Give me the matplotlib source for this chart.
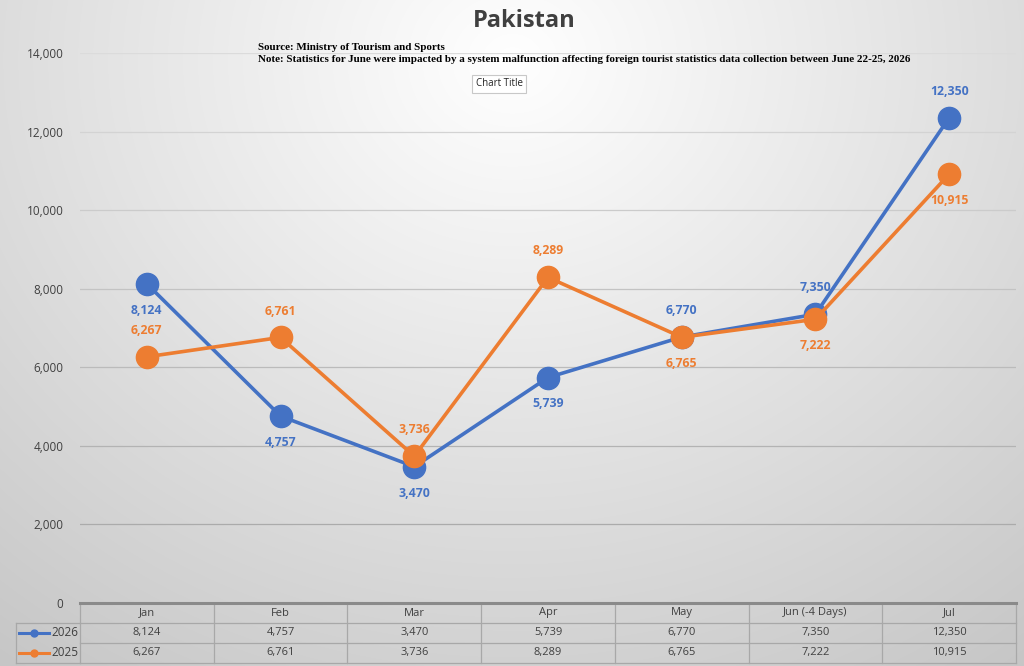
# line chart: Pakistan foreign tourist arrivals, 2026 vs 2025, with data table
import numpy as np
import matplotlib.pyplot as plt
from matplotlib.transforms import blended_transform_factory

months = ['Jan', 'Feb', 'Mar', 'Apr', 'May', 'Jun (-4 Days)', 'Jul']
arrivals_2026 = [8124, 4757, 3470, 5739, 6770, 7350, 12350]
arrivals_2025 = [6267, 6761, 3736, 8289, 6765, 7222, 10915]
# where each data label sits: +1 above the point, -1 below
label_side_2026 = [-1, -1, -1, -1, 1, 1, 1]
label_side_2025 = [1, 1, 1, 1, -1, -1, -1]

blue = '#4472C4'
orange = '#ED7D31'
font = ['Open Sans', 'DejaVu Sans']

fig = plt.figure(figsize=(10.24, 6.66), dpi=100)

# radial gradient background, light at top centre, grey at the edges
bg = fig.add_axes([0, 0, 1, 1], zorder=-10)
yy, xx = np.mgrid[0:666, 0:1024]
dist = np.sqrt(((xx - 512) / 700.0) ** 2 + ((yy - 60) / 620.0) ** 2)
shade = 1.0 - 0.22 * np.clip(dist, 0, 1.2) / 1.2
bg.imshow(np.dstack([shade, shade, shade]), aspect='auto', extent=[0, 1, 0, 1])
bg.axis('off')

ax = fig.add_axes([80 / 1024, 63 / 666, 936 / 1024, 550 / 666])
ax.set_facecolor('none')
x = np.arange(len(months))

ax.plot(x, arrivals_2026, color=blue, lw=2.6, marker='o', ms=16, zorder=3)
ax.plot(x, arrivals_2025, color=orange, lw=2.6, marker='o', ms=16, zorder=4)

for xi, v, s in zip(x, arrivals_2026, label_side_2026):
    ax.annotate(f'{v:,}', (xi, v), xytext=(0, 19 * s), textcoords='offset points',
                ha='center', va='center', color=blue, fontsize=8.8,
                fontweight='bold', family=font)
for xi, v, s in zip(x, arrivals_2025, label_side_2025):
    ax.annotate(f'{v:,}', (xi, v), xytext=(0, 19 * s), textcoords='offset points',
                ha='center', va='center', color=orange, fontsize=8.8,
                fontweight='bold', family=font)

yticks = list(range(0, 14001, 2000))
ax.set_xlim(-0.5, len(months) - 0.5)
ax.set_ylim(0, 14000)
ax.set_yticks(yticks)
ax.set_yticklabels([f'{t:,}' for t in yticks], family=font,
                   fontsize=8.5, color='#404040')
ax.set_xticks([])
ax.tick_params(axis='y', length=0, pad=12)
# gridlines look lighter towards the top, where the background is whiter
for t in yticks[1:]:
    g = 0.64 + 0.22 * t / 14000
    ax.axhline(t, color=(g, g, g), lw=0.9, zorder=1)
for side in ['top', 'right', 'left']:
    ax.spines[side].set_visible(False)
ax.spines['bottom'].set_color('#8a8a8a')
ax.spines['bottom'].set_linewidth(2.2)

# data table under the axis
tr = blended_transform_factory(ax.transData, ax.transAxes)
row_h = 20 / 550
tcol = '#a8a8a8'
rows = [('2026', arrivals_2026, blue), ('2025', arrivals_2025, orange)]
for i, m in enumerate(months):
    ax.text(i, -row_h * 0.5, m, transform=tr, ha='center', va='center',
            fontsize=8, color='#404040', family=font, clip_on=False)
    for r, (name, vals, c) in enumerate(rows):
        ax.text(i, -row_h * (r + 1.5), f'{vals[i]:,}', transform=tr, ha='center',
                va='center', fontsize=8, color='#404040', family=font, clip_on=False)
for i in range(len(months) + 1):
    ax.plot([i - 0.5, i - 0.5], [0, -row_h * 3], transform=tr, color=tcol,
            lw=0.9, clip_on=False)
for r in range(1, 4):
    ax.plot([-0.5, len(months) - 0.5], [-row_h * r, -row_h * r], transform=tr,
            color=tcol, lw=0.9, clip_on=False)

# legend cells on the left of the table
left = -64 / 936
for r, (name, vals, c) in enumerate(rows):
    yc = -row_h * (r + 1.5)
    ax.plot([left + 0.003, left + 0.035], [yc, yc], transform=ax.transAxes,
            color=c, lw=2.2, clip_on=False)
    ax.plot([left + 0.019], [yc], transform=ax.transAxes, marker='o', ms=5,
            color=c, clip_on=False)
    ax.text(-0.002, yc, name, transform=ax.transAxes, ha='right', va='center',
            fontsize=8.5, color='#404040', family=font, clip_on=False)
ax.plot([left, left], [-row_h, -row_h * 3], transform=ax.transAxes, color=tcol,
        lw=0.9, clip_on=False)
ax.plot([left, 0], [-row_h, -row_h], transform=ax.transAxes, color=tcol,
        lw=0.9, clip_on=False)
ax.plot([left, 0], [-row_h * 3, -row_h * 3], transform=ax.transAxes, color=tcol,
        lw=0.9, clip_on=False)

# titles and notes
fig.text(0.512, 1 - 21 / 666, 'Pakistan', ha='center', va='center', fontsize=17,
         fontweight='bold', color='#404040', family=font)
serif = ['Liberation Serif', 'DejaVu Serif']
fig.text(258 / 1024, 1 - 47 / 666, 'Source: Ministry of Tourism and Sports',
         ha='left', va='center', fontsize=7.9, fontweight='bold', family=serif)
fig.text(258 / 1024, 1 - 59 / 666,
         'Note: Statistics for June were impacted by a system malfunction affecting '
         'foreign tourist statistics data collection between June 22-25, 2026',
         ha='left', va='center', fontsize=7.9, fontweight='bold', family=serif)
fig.text(499 / 1024, 1 - 84 / 666, 'Chart Title', ha='center', va='center',
         fontsize=7, family=font, color='#222222',
         bbox=dict(boxstyle='square,pad=0.35', fc='white', ec='#c8c8c8', lw=0.8))

fig.savefig('out.png', dpi=100)
